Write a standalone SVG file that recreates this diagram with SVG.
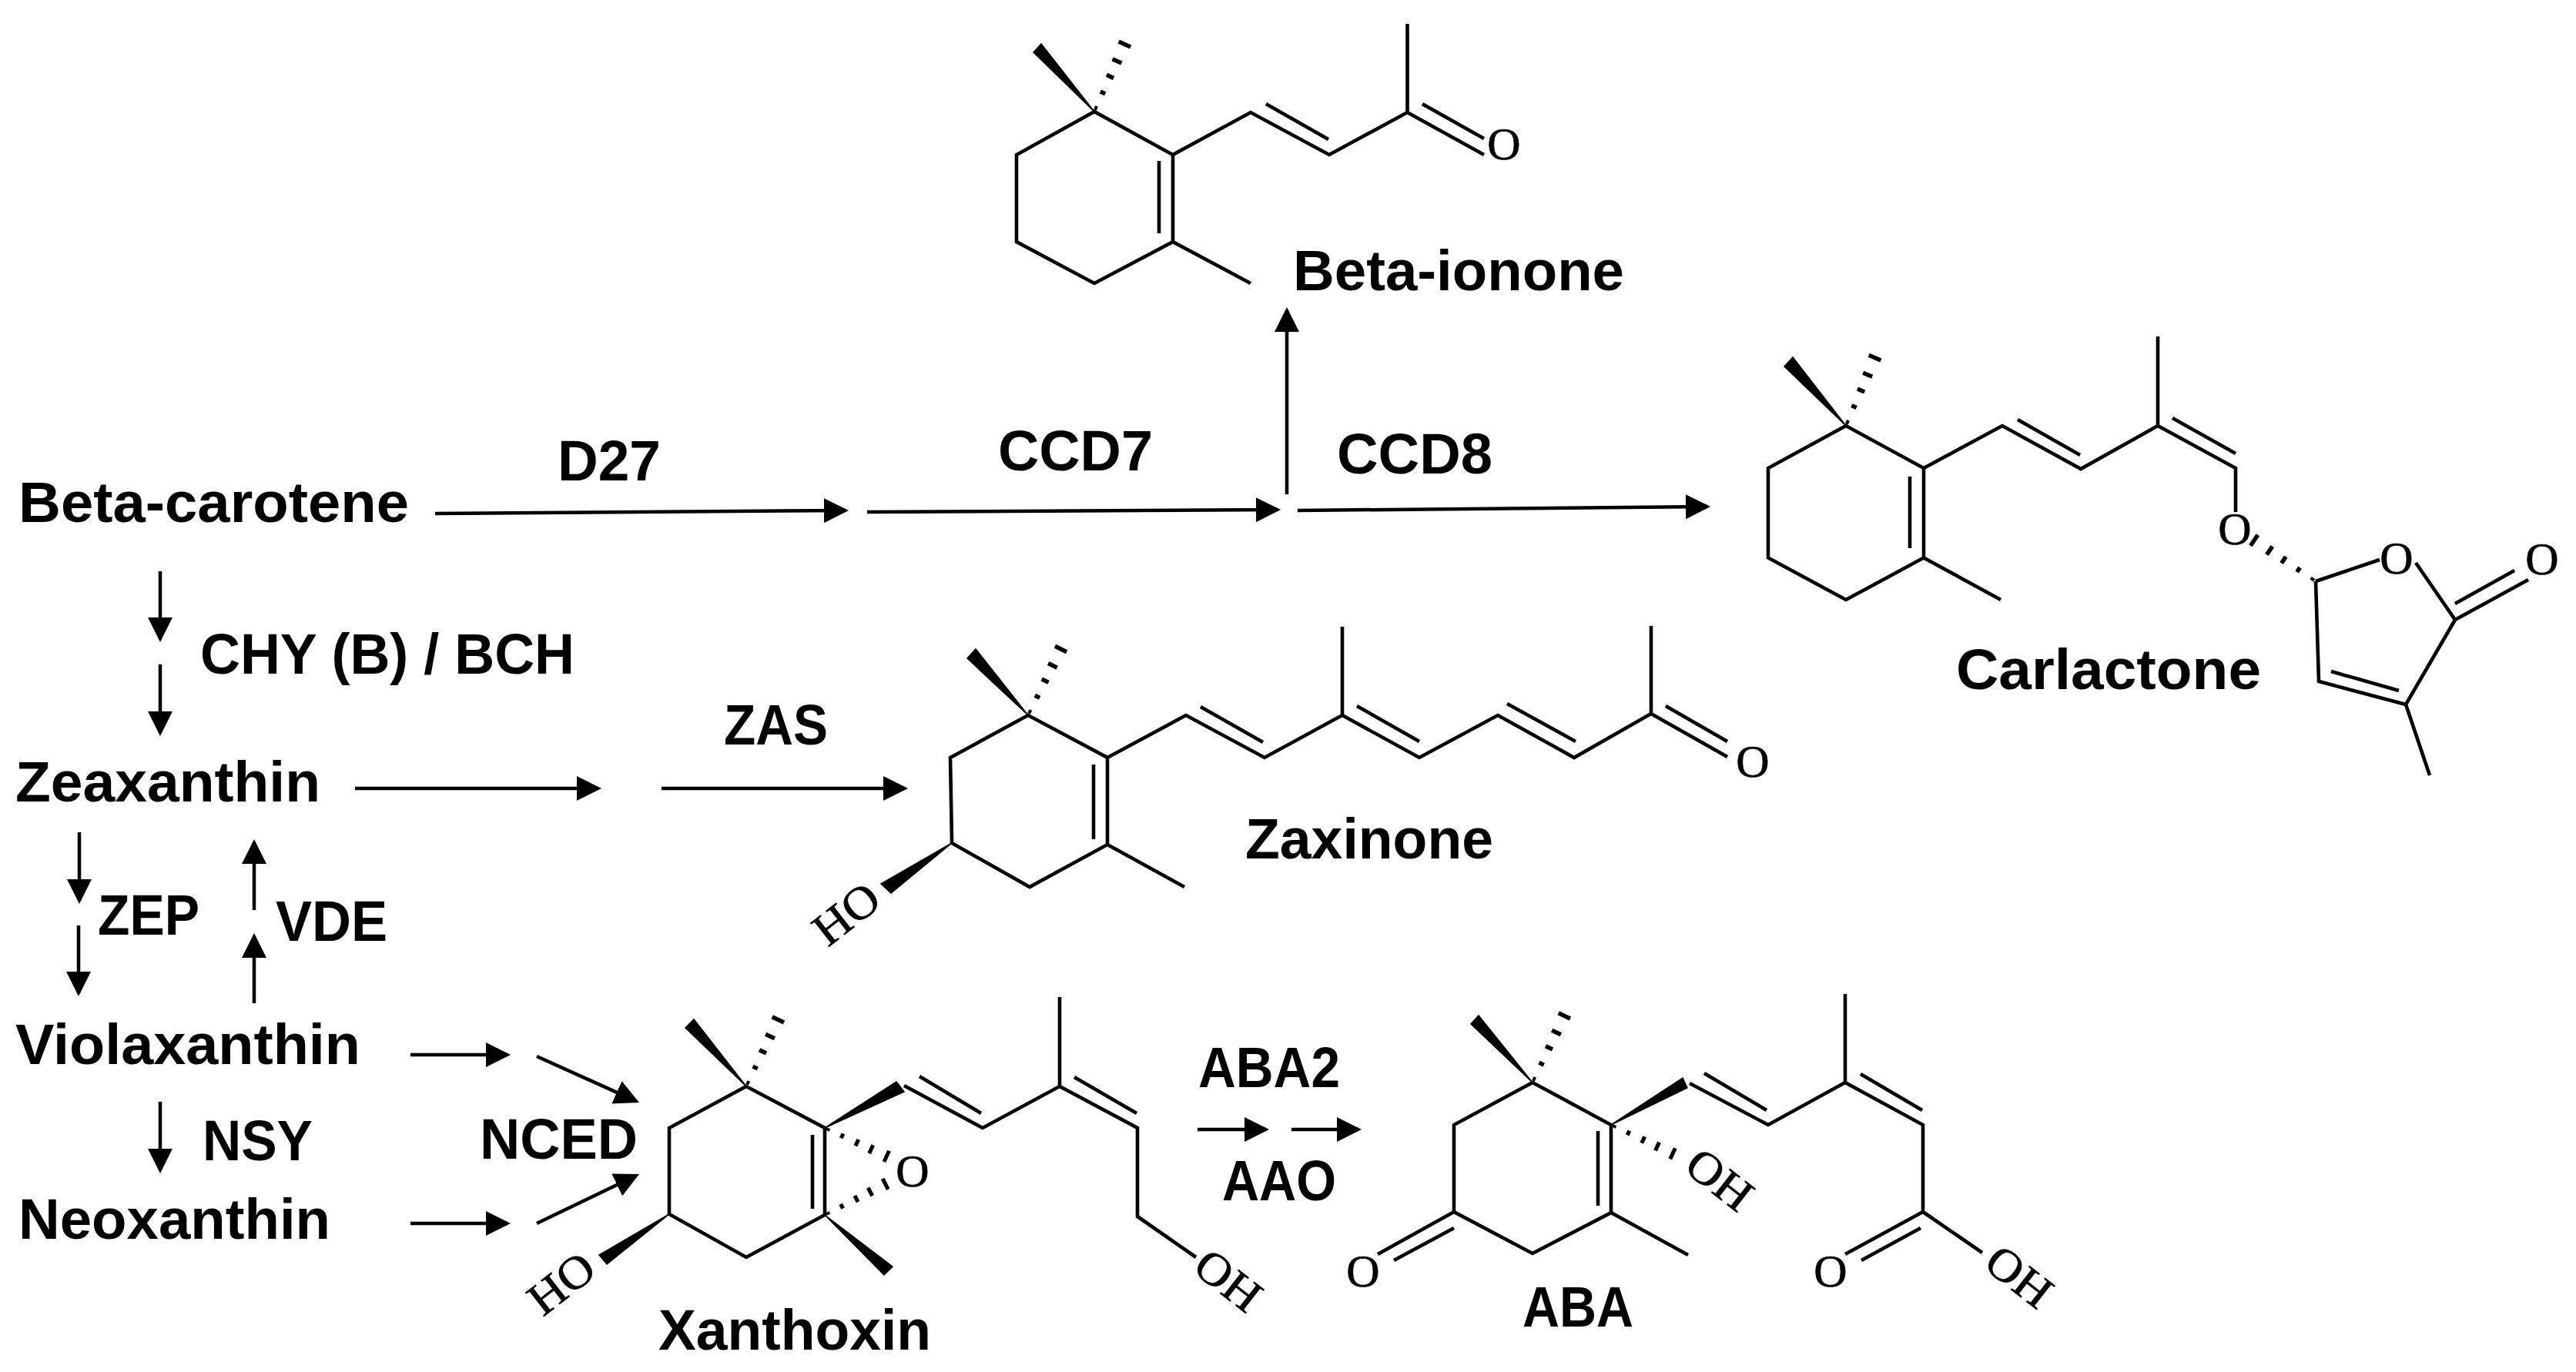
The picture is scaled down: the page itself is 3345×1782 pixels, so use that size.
<svg xmlns="http://www.w3.org/2000/svg" width="3345" height="1782" viewBox="0 0 3345 1782">
<style>
.lbl{font-family:"Liberation Sans",Arial,sans-serif;font-weight:700;font-size:74px;fill:#000}
.atom{font-family:"Liberation Serif","Times New Roman",serif;font-size:60px;fill:#000;stroke:#000;stroke-width:.7}
.b{fill:none;stroke:#000;stroke-width:4.6;stroke-linejoin:miter;stroke-linecap:butt}
.w{fill:#000;stroke:#000;stroke-width:1.5}
.a{fill:none;stroke:#000;stroke-width:4.5;marker-end:url(#head)}
.h{stroke:#000;stroke-width:5.5}
</style>
<defs>
<marker id="head" markerUnits="userSpaceOnUse" markerWidth="32" markerHeight="32" refX="28" refY="16" orient="auto"><path d="M0,0L32,16L0,32Z" fill="#000"/></marker>
<g id="hash"><path class="h" d="M5,-2V2M27,-3.500V3.500M50,-5V5M72,-6.500V6.500M96,-8.500V8.500"/></g>
</defs>
<rect width="3345" height="1782" fill="#fff"/>
<g id="connectors">
<path class="a" d="M565,667L1098,663"/>
<path class="a" d="M1126,665L1659,662"/>
<path class="a" d="M1685,663L2217,658"/>
<path class="a" d="M1671,642V403"/>
<path class="a" d="M208,742V830"/>
<path class="a" d="M208,863V952"/>
<path class="a" d="M103,1081V1170"/>
<path class="a" d="M102,1202V1290"/>
<path class="a" d="M330,1182V1094"/>
<path class="a" d="M330,1303V1216"/>
<path class="a" d="M461,1024H777"/>
<path class="a" d="M859,1024H1175"/>
<path class="a" d="M533,1370H659"/>
<path class="a" d="M697,1372L826.400,1430.400"/>
<path class="a" d="M533,1589H659"/>
<path class="a" d="M697,1589L826.400,1526.700"/>
<path class="a" d="M208,1431V1520"/>
<path class="a" d="M1555,1467H1644"/>
<path class="a" d="M1677,1467H1764"/>
</g>
<g id="enzymes">
<text id="d27" class="lbl" x="724" y="624" textLength="134" lengthAdjust="spacingAndGlyphs">D27</text>
<text id="ccd7" class="lbl" x="1296" y="611" textLength="201" lengthAdjust="spacingAndGlyphs">CCD7</text>
<text id="ccd8" class="lbl" x="1736" y="615" textLength="202" lengthAdjust="spacingAndGlyphs">CCD8</text>
<text id="chy" class="lbl" x="260" y="875" textLength="486" lengthAdjust="spacingAndGlyphs">CHY (B) / BCH</text>
<text id="zas" class="lbl" x="940" y="967" textLength="135" lengthAdjust="spacingAndGlyphs">ZAS</text>
<text id="zep" class="lbl" x="127" y="1214" textLength="132" lengthAdjust="spacingAndGlyphs">ZEP</text>
<text id="vde" class="lbl" x="358" y="1222" textLength="145" lengthAdjust="spacingAndGlyphs">VDE</text>
<text id="nsy" class="lbl" x="263" y="1507" textLength="143" lengthAdjust="spacingAndGlyphs">NSY</text>
<text id="nced" class="lbl" x="623" y="1505" textLength="205" lengthAdjust="spacingAndGlyphs">NCED</text>
<text id="aba2" class="lbl" x="1556" y="1412" textLength="184" lengthAdjust="spacingAndGlyphs">ABA2</text>
<text id="aao" class="lbl" x="1587" y="1559" textLength="148" lengthAdjust="spacingAndGlyphs">AAO</text>
</g>
<g id="beta-carotene"><text class="lbl" x="24" y="678" textLength="507" lengthAdjust="spacingAndGlyphs">Beta-carotene</text></g>
<g id="zeaxanthin"><text class="lbl" x="20" y="1041" textLength="396" lengthAdjust="spacingAndGlyphs">Zeaxanthin</text></g>
<g id="violaxanthin"><text class="lbl" x="20" y="1382" textLength="448" lengthAdjust="spacingAndGlyphs">Violaxanthin</text></g>
<g id="neoxanthin"><text class="lbl" x="24" y="1609" textLength="405" lengthAdjust="spacingAndGlyphs">Neoxanthin</text></g>
<g id="beta-ionone">
<path class="b" d="M1421,145L1320,201V314L1421,368L1523,314V201ZM1505,209V303M1523,314L1624,368M1523,201L1624,146L1726,201L1827.500,146V31M1827.500,146L1927,201M1847,135L1927,180M1644,135L1725,181"/>
<polygon class="w" points="1421,145 1342,68 1352,57"/>
<use href="#hash" transform="translate(1421,145) rotate(-65.800)"/>
<text class="atom" x="1953" y="207" text-anchor="middle">O</text>
<text class="lbl" x="1679" y="377" textLength="430" lengthAdjust="spacingAndGlyphs">Beta-ionone</text>
</g>
<g id="carlactone">
<path class="b" d="M2397,553L2296,608V724.500L2397,779L2498,724.500V608ZM2480,619V712M2498,724.500L2598,779M2498,608L2600,553L2702,609L2802,553V437M2802,553L2903,608V665M2620,545L2701,591M2821,543L2903,589M3007,755L3090,727M3137,731L3188,805L3283,753M3188,784L3265,741M3188,805L3124,915L3011,885L3007,755M3027,872L3115,897M3124,915L3155,1007"/>
<polygon class="w" points="2397,553 2317,476 2328,464"/>
<use href="#hash" transform="translate(2397,553) rotate(-67)"/>
<use href="#hash" transform="translate(3007,755) rotate(213.700)"/>
<text class="atom" x="2902" y="707" text-anchor="middle">O</text>
<text class="atom" x="3112" y="745" text-anchor="middle">O</text>
<text class="atom" x="3301" y="746" text-anchor="middle">O</text>
<text class="lbl" x="2540" y="895" textLength="396" lengthAdjust="spacingAndGlyphs">Carlactone</text>
</g>
<g id="zaxinone">
<path class="b" d="M1335,929L1234,984L1236,1095L1337,1152L1438,1097V984ZM1420,993V1090M1438,1097L1538,1152M1438,984L1540,929L1642,984L1743,929V814M1743,929L1843,984L1945,929L2044,984L2144,927V813M2144,927L2243,983M2163,917L2243,963M1559,918L1640,964M1762,917L1843,963M1957,914L2046,963"/>
<polygon class="w" points="1335,929 1256,855 1267,843"/>
<use href="#hash" transform="translate(1335,929) rotate(-63.700)"/>
<polygon class="w" points="1236,1095 1144,1148 1157,1160"/>
<text class="atom" x="2276" y="1009" text-anchor="middle">O</text>
<text class="atom" transform="translate(1099,1187) rotate(-38)" y="20" text-anchor="middle" textLength="92" lengthAdjust="spacingAndGlyphs">HO</text>
<text class="lbl" x="1617" y="1115" textLength="322" lengthAdjust="spacingAndGlyphs">Zaxinone</text>
</g>
<g id="xanthoxin">
<path class="b" d="M969,1411L869,1465V1577L969,1633L1071,1578V1465ZM1055,1474V1570M1174,1410L1276,1465L1376,1411V1295M1376,1411L1477,1465V1580L1553,1633M1194,1398L1274,1446M1395,1399L1476,1446"/>
<polygon class="w" points="969,1411 890,1335 901,1324"/>
<use href="#hash" transform="translate(969,1411) rotate(-64.500)"/>
<polygon class="w" points="869,1577 778,1630 788,1642"/>
<polygon class="w" points="1071,1578 1159,1645 1148,1656"/>
<polygon class="w" points="1071,1465 1164,1405 1174,1418"/>
<use href="#hash" transform="translate(1071,1465) rotate(24.700) scale(.92)"/>
<use href="#hash" transform="translate(1071,1578) rotate(-27) scale(.92)"/>
<text class="atom" x="1185" y="1541" text-anchor="middle">O</text>
<text class="atom" transform="translate(729,1667) rotate(-38)" y="20" text-anchor="middle" textLength="92" lengthAdjust="spacingAndGlyphs">HO</text>
<text class="atom" transform="translate(1595,1663) rotate(38)" y="20" text-anchor="middle" textLength="92" lengthAdjust="spacingAndGlyphs">OH</text>
<text class="lbl" x="855" y="1753" textLength="354" lengthAdjust="spacingAndGlyphs">Xanthoxin</text>
</g>
<g id="aba">
<path class="b" d="M1990,1406L1888,1461V1574L1990,1628L2092,1575V1461ZM2075,1469V1566M2092,1575L2192,1630M1888,1574L1789,1629M1888,1595L1810,1637M2194,1407L2296,1461L2396,1406V1291M2396,1406L2497,1461V1574L2396,1629M2213,1394L2294,1442M2416,1395L2496,1442M2494,1595L2417,1637M2497,1574L2574,1627"/>
<polygon class="w" points="1990,1406 1910,1330 1920,1319"/>
<use href="#hash" transform="translate(1990,1406) rotate(-64.500)"/>
<polygon class="w" points="2092,1461 2185,1400 2191,1413"/>
<use href="#hash" transform="translate(2092,1461) rotate(25) scale(.92)"/>
<text class="atom" x="1770" y="1671" text-anchor="middle">O</text>
<text class="atom" x="2377" y="1671" text-anchor="middle">O</text>
<text class="atom" transform="translate(2233,1532) rotate(38)" y="20" text-anchor="middle" textLength="92" lengthAdjust="spacingAndGlyphs">OH</text>
<text class="atom" transform="translate(2622,1658) rotate(38)" y="20" text-anchor="middle" textLength="92" lengthAdjust="spacingAndGlyphs">OH</text>
<text class="lbl" x="1977" y="1723" textLength="144" lengthAdjust="spacingAndGlyphs">ABA</text>
</g>
</svg>
